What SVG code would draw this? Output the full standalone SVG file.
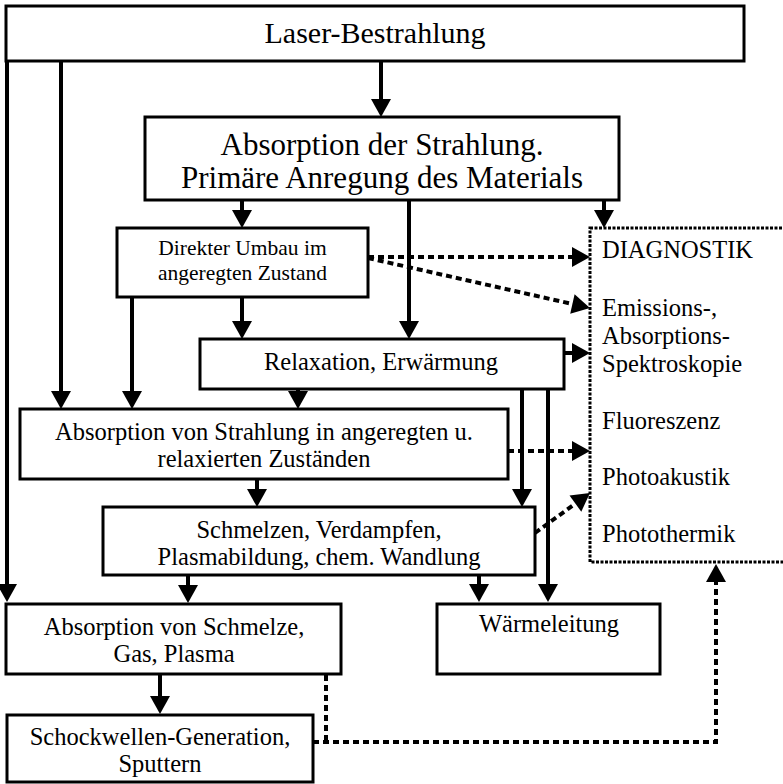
<svg xmlns="http://www.w3.org/2000/svg" width="783" height="784" viewBox="0 0 783 784">
<style>
.box{fill:#fff;stroke:#000;stroke-width:3}
.dbox{fill:none;stroke:#000;stroke-width:3;stroke-dasharray:3 1.5}
.ln{fill:none;stroke:#000;stroke-width:4}
.dl{fill:none;stroke:#000;stroke-width:4;stroke-dasharray:6 4}
text{font-family:"Liberation Serif","Times New Roman",serif;fill:#000;font-size:24.5px}
.c{text-anchor:middle}
</style>
<defs>
<marker id="ah" markerUnits="userSpaceOnUse" markerWidth="18" markerHeight="20" refX="0" refY="10" orient="auto" overflow="visible">
<path d="M0,0 L18,10 L0,20 z" fill="#000"/>
</marker>
</defs>
<rect width="783" height="784" fill="#fff"/>
<g id="connectors">
<path class="ln" d="M381,61 V99" marker-end="url(#ah)"/>
<path class="ln" d="M7,61 V584" marker-end="url(#ah)"/>
<path class="ln" d="M61,61 V391" marker-end="url(#ah)"/>
<path class="ln" d="M242,200 V210" marker-end="url(#ah)"/>
<path class="ln" d="M409,200 V321" marker-end="url(#ah)"/>
<path class="ln" d="M604,200 V210" marker-end="url(#ah)"/>
<path class="ln" d="M242,297 V321" marker-end="url(#ah)"/>
<path class="ln" d="M132,297 V391" marker-end="url(#ah)"/>
<path class="ln" d="M298,389 V391" marker-end="url(#ah)"/>
<path class="ln" d="M522,389 V489" marker-end="url(#ah)"/>
<path class="ln" d="M548,389 V584" marker-end="url(#ah)"/>
<path class="ln" d="M564,353 H572" marker-end="url(#ah)"/>
<path class="ln" d="M257,479 V489" marker-end="url(#ah)"/>
<path class="ln" d="M188,575 V585" marker-end="url(#ah)"/>
<path class="ln" d="M479,575 V584" marker-end="url(#ah)"/>
<path class="ln" d="M160,674 V696" marker-end="url(#ah)"/>
<path class="dl" d="M368,257 H572" marker-end="url(#ah)"/>
<path class="dl" d="M368,258 L572.4,304" marker-end="url(#ah)"/>
<path class="dl" d="M508,451 H572" marker-end="url(#ah)"/>
<path class="dl" d="M535,533 L575.4,503.6" marker-end="url(#ah)"/>
<path class="dl" d="M326,675 V742"/>
<path class="dl" d="M313,742 H716 V582" marker-end="url(#ah)"/>
</g>
<g id="laser">
<rect class="box" x="6" y="6" width="738" height="55"/>
<text class="c" x="375" y="43" style="font-size:30px">Laser-Bestrahlung</text>
</g>
<g id="absorption">
<rect class="box" x="145" y="117" width="474" height="83"/>
<text class="c" x="382" y="155" style="font-size:31px">Absorption der Strahlung.</text>
<text class="c" x="382" y="188" style="font-size:31px">Primäre Anregung des Materials</text>
</g>
<g id="direkt">
<rect class="box" x="117" y="228" width="251" height="69"/>
<text class="c" x="242.5" y="255" style="font-size:21.5px">Direkter Umbau im</text>
<text class="c" x="242.5" y="280" style="font-size:21.5px">angeregten Zustand</text>
</g>
<g id="relax">
<rect class="box" x="200" y="339" width="364" height="50"/>
<text class="c" x="381" y="370">Relaxation, Erwärmung</text>
</g>
<g id="absangeregt">
<rect class="box" x="20" y="409" width="488" height="70"/>
<text class="c" x="264" y="440">Absorption von Strahlung in angeregten u.</text>
<text class="c" x="264" y="467">relaxierten Zuständen</text>
</g>
<g id="schmelzen">
<rect class="box" x="103" y="507" width="432" height="68"/>
<text class="c" x="319" y="538">Schmelzen, Verdampfen,</text>
<text class="c" x="319" y="565">Plasmabildung, chem. Wandlung</text>
</g>
<g id="absschmelze">
<rect class="box" x="6" y="604" width="335" height="70"/>
<text class="c" x="174" y="635">Absorption von Schmelze,</text>
<text class="c" x="174" y="662">Gas, Plasma</text>
</g>
<g id="waerme">
<rect class="box" x="437" y="604" width="223" height="70"/>
<text class="c" x="549" y="632">Wärmeleitung</text>
</g>
<g id="schock">
<rect class="box" x="7" y="715" width="306" height="67"/>
<text class="c" x="160" y="745">Schockwellen-Generation,</text>
<text class="c" x="160" y="772">Sputtern</text>
</g>
<g id="diagnostik">
<rect class="dbox" x="590" y="228" width="220" height="334"/>
<text x="602" y="258">DIAGNOSTIK</text>
<text x="602" y="316">Emissions-,</text>
<text x="602" y="344">Absorptions-</text>
<text x="602" y="372">Spektroskopie</text>
<text x="602" y="429">Fluoreszenz</text>
<text x="602" y="485">Photoakustik</text>
<text x="602" y="542">Photothermik</text>
</g>
</svg>
